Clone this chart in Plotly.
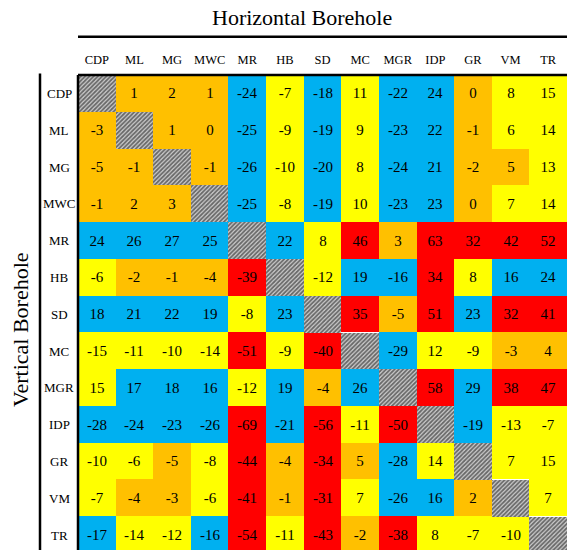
import plotly.graph_objects as go

labels = ["CDP", "ML", "MG", "MWC", "MR", "HB", "SD", "MC", "MGR", "IDP", "GR", "VM", "TR"]

row_CDP = [None, 1, 2, 1, -24, -7, -18, 11, -22, 24, 0, 8, 15]
row_ML = [-3, None, 1, 0, -25, -9, -19, 9, -23, 22, -1, 6, 14]
row_MG = [-5, -1, None, -1, -26, -10, -20, 8, -24, 21, -2, 5, 13]
row_MWC = [-1, 2, 3, None, -25, -8, -19, 10, -23, 23, 0, 7, 14]
row_MR = [24, 26, 27, 25, None, 22, 8, 46, 3, 63, 32, 42, 52]
row_HB = [-6, -2, -1, -4, -39, None, -12, 19, -16, 34, 8, 16, 24]
row_SD = [18, 21, 22, 19, -8, 23, None, 35, -5, 51, 23, 32, 41]
row_MC = [-15, -11, -10, -14, -51, -9, -40, None, -29, 12, -9, -3, 4]
row_MGR = [15, 17, 18, 16, -12, 19, -4, 26, None, 58, 29, 38, 47]
row_IDP = [-28, -24, -23, -26, -69, -21, -56, -11, -50, None, -19, -13, -7]
row_GR = [-10, -6, -5, -8, -44, -4, -34, 5, -28, 14, None, 7, 15]
row_VM = [-7, -4, -3, -6, -41, -1, -31, 7, -26, 16, 2, None, 7]
row_TR = [-17, -14, -12, -16, -54, -11, -43, -2, -38, 8, -7, -10, None]

rows = [row_CDP, row_ML, row_MG, row_MWC, row_MR, row_HB, row_SD,
        row_MC, row_MGR, row_IDP, row_GR, row_VM, row_TR]

# class thresholds on |value|
thresholds = [5, 15, 30]
class_colors = ["#FFC000", "#FFFF00", "#00B0F0", "#FF0000"]


def klass(v):
    if v is None:
        return None
    a = abs(v)
    for i, t in enumerate(thresholds):
        if a <= t:
            return i
    return len(thresholds)


z = [[klass(v) for v in r] for r in rows]
text = [["" if v is None else str(v) for v in r] for r in rows]
idx = list(range(len(labels)))

cs = []
n = len(class_colors)
for i, c in enumerate(class_colors):
    cs.append([i / n, c])
    cs.append([(i + 1) / n, c])

FONT = "Liberation Serif, Times New Roman, serif"

fig = go.Figure()
fig.add_trace(go.Heatmap(
    x=idx, y=idx, z=z, text=text, texttemplate="%{text}",
    textfont=dict(family=FONT, size=15, color="black"),
    colorscale=cs, zmin=-0.5, zmax=n - 0.5, showscale=False,
    hoverinfo="skip", xgap=0, ygap=0,
))

# hatched diagonal cells
fig.add_trace(go.Bar(
    x=idx, y=[1] * len(idx), base=[i - 0.5 for i in idx], width=1,
    marker=dict(color="#d0d0d0", line=dict(width=0),
                pattern=dict(shape="/", fgcolor="black", bgcolor="#d0d0d0",
                             size=3, solidity=0.6)),
    hoverinfo="skip", showlegend=False,
))

ncell = len(labels)
plot_h = 475
row_px = 36.8
fig.update_layout(
    width=567, height=550,
    margin=dict(l=78, r=0, t=75, b=0),
    paper_bgcolor="white", plot_bgcolor="white",
    showlegend=False, bargap=0,
    font=dict(family=FONT, color="black"),
    xaxis=dict(side="top", range=[-0.5, ncell - 0.5], tickvals=idx, ticktext=labels,
               showgrid=False, zeroline=False, ticks="", ticklabelstandoff=8,
               tickfont=dict(family=FONT, size=12.5, color="black")),
    yaxis=dict(range=[-0.5 + plot_h / row_px, -0.5], showticklabels=False,
               showgrid=False, zeroline=False, ticks=""),
)

# row labels centered left of the grid
for i, lab in enumerate(labels):
    fig.add_annotation(x=-19 / 489, xref="paper", y=i, yref="y", text=lab,
                       showarrow=False, xanchor="center", yanchor="middle",
                       font=dict(family=FONT, size=13, color="black"))

fig.add_annotation(x=(302 - 78) / 489, xref="paper", y=(550 - 17) / 475, yref="paper",
                   text="Horizontal Borehole", showarrow=False, xanchor="center",
                   yanchor="middle", font=dict(family=FONT, size=22, color="black"))
fig.add_annotation(x=(20 - 78) / 489, xref="paper", y=(550 - 330) / 475, yref="paper",
                   text="Vertical Borehole", showarrow=False, textangle=-90,
                   xanchor="center", yanchor="middle",
                   font=dict(family=FONT, size=22, color="black"))

line = dict(color="black", width=2.5)
fig.add_shape(type="line", xref="paper", yref="paper", x0=0, x1=1,
              y0=(550 - 36.7) / 475, y1=(550 - 36.7) / 475, line=line)
fig.add_shape(type="line", xref="paper", yref="paper", x0=0, x1=1,
              y0=1, y1=1, line=line)
fig.add_shape(type="line", xref="paper", yref="paper", x0=0, x1=0,
              y0=0, y1=1, line=line)
fig.add_shape(type="line", xref="paper", yref="paper", x0=(40 - 78) / 489, x1=(40 - 78) / 489,
              y0=0, y1=1.003, line=line)

fig.write_html("out.html")
